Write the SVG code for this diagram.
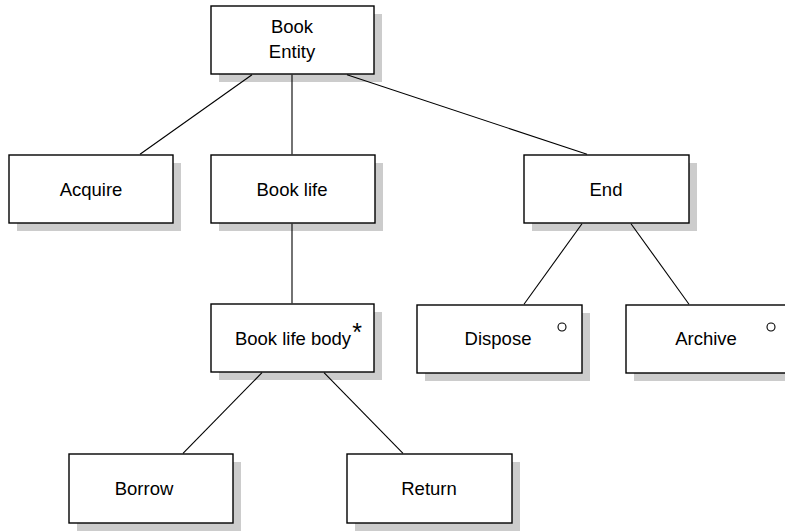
<svg xmlns="http://www.w3.org/2000/svg" width="785" height="532" viewBox="0 0 785 532">
<defs>
<style>
.shadow{fill:#cccccc;stroke:none}
.box{fill:#ffffff;stroke:#000000;stroke-width:1.4}
.lbl{font-family:"Liberation Sans",Arial,sans-serif;font-size:18.5px;fill:#000000;text-anchor:middle}
.conn line{stroke:#000000;stroke-width:1.1}
.mark{fill:#ffffff;stroke:#000000;stroke-width:1.1}
</style>
</defs>
<rect width="785" height="532" fill="#ffffff"/>
<g id="book-entity">
<rect class="shadow" x="219" y="14" width="163" height="68"/>
<rect class="box" x="211" y="6" width="163" height="68"/>
<text class="lbl" x="292" y="33">Book</text>
<text class="lbl" x="292" y="58">Entity</text>
</g>
<g id="acquire">
<rect class="shadow" x="17" y="163" width="164" height="68"/>
<rect class="box" x="9" y="155" width="164" height="68"/>
<text class="lbl" x="91" y="196">Acquire</text>
</g>
<g id="book-life">
<rect class="shadow" x="219" y="163" width="164" height="68"/>
<rect class="box" x="211" y="155" width="164" height="68"/>
<text class="lbl" x="292" y="196">Book life</text>
</g>
<g id="end">
<rect class="shadow" x="532" y="163" width="165" height="68"/>
<rect class="box" x="524" y="155" width="165" height="68"/>
<text class="lbl" x="606" y="196">End</text>
</g>
<g id="book-life-body">
<rect class="shadow" x="219" y="312" width="163" height="68"/>
<rect class="box" x="211" y="304" width="163" height="68"/>
<text class="lbl" x="293" y="345">Book life body</text>
<text class="lbl" x="357" y="341" style="font-size:25px">*</text>
</g>
<g id="dispose">
<rect class="shadow" x="425" y="313" width="165" height="68"/>
<rect class="box" x="417" y="305" width="165" height="68"/>
<text class="lbl" x="498" y="345">Dispose</text>
<circle class="mark" cx="562" cy="327" r="4"/>
</g>
<g id="archive">
<rect class="shadow" x="634" y="313" width="165" height="68"/>
<rect class="box" x="626" y="305" width="165" height="68"/>
<text class="lbl" x="706" y="345">Archive</text>
<circle class="mark" cx="771" cy="327" r="4"/>
</g>
<g id="borrow">
<rect class="shadow" x="77" y="462" width="164" height="69"/>
<rect class="box" x="69" y="454" width="164" height="69"/>
<text class="lbl" x="144" y="495">Borrow</text>
</g>
<g id="return">
<rect class="shadow" x="355" y="462" width="165" height="69"/>
<rect class="box" x="347" y="454" width="165" height="69"/>
<text class="lbl" x="429" y="495">Return</text>
</g>
<g id="connectors" class="conn">
<line x1="252" y1="74.7" x2="140" y2="154.3"/>
<line x1="292" y1="74.7" x2="292" y2="154.3"/>
<line x1="347" y1="74.7" x2="587" y2="154.3"/>
<line x1="292" y1="223.7" x2="292" y2="303.3"/>
<line x1="582" y1="223.7" x2="524" y2="304.3"/>
<line x1="631" y1="223.7" x2="689" y2="304.3"/>
<line x1="262" y1="372.7" x2="183" y2="453.3"/>
<line x1="324" y1="372.7" x2="403" y2="453.3"/>
</g>
</svg>
